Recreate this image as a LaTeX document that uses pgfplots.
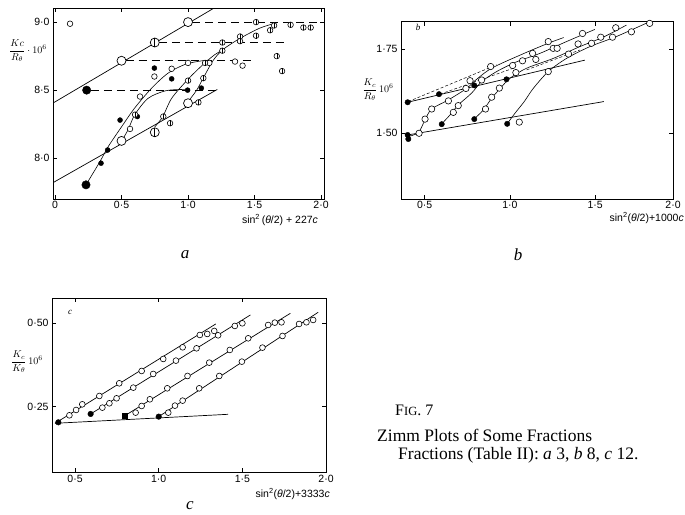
\documentclass[border=0pt]{standalone}
\usepackage{pgfplots}
\pgfplotsset{compat=1.18}
\usepackage{fontspec}
\setmainfont{Liberation Serif}
\setsansfont{Liberation Sans}
\begin{document}
\begin{tikzpicture}
\useasboundingbox (0pt,0pt) rectangle (685pt,514pt);
\pgfplotsset{
 zimm/.style={scale only axis, anchor=south west, axis line style={line width=0.7pt},
   tick align=inside, major tick length=4pt, tick style={line width=0.6pt, black},
   tick label style={font=\sffamily\fontsize{10.5}{12}\selectfont},
   xticklabel style={yshift=1pt},
   /pgf/number format/assume math mode=true,
   cycle list={{black,solid}}},
 ln/.style={black, line width=0.7pt, no marks},
 cv/.style={black, line width=0.6pt, no marks, smooth},
 op/.style={only marks, mark=*, mark size=2.8pt, mark options={line width=0.6pt, fill=white, draw=black}},
 opL/.style={only marks, mark=*, mark size=4.5pt, mark options={line width=0.7pt, fill=white, draw=black}},
 fi/.style={only marks, mark=*, mark size=2.5pt, mark options={fill=black, draw=black}},
 fiL/.style={only marks, mark=*, mark size=4.2pt, mark options={fill=black, draw=black}},
 bar/.style={only marks, mark=|, mark size=2.8pt, mark options={line width=0.5pt, draw=black}},
 barL/.style={only marks, mark=|, mark size=4.5pt, mark options={line width=0.6pt, draw=black}},
}
% ---------------- panel a ----------------
\begin{axis}[zimm, at={(53pt,315pt)}, width=271pt, height=190.5pt,
 xmin=-0.015, xmax=2.022, ymin=7.70, ymax=9.10,
 xtick={0,0.5,1,1.5,2}, xticklabels={0,0·5,1·0,1·5,2·0},
 ytick={8,8.5,9}, yticklabels={8·0,8·5,9·0}]
\addplot[ln] coordinates {(-0.015,8.405) (1.19,9.10)};
\addplot[ln] coordinates {(-0.015,7.82) (1.22,8.505)};
\addplot[ln, dash pattern=on 8pt off 5pt] coordinates {(1.03,9.0) (2.02,9.0)};
\addplot[ln, dash pattern=on 8pt off 5pt] coordinates {(0.78,8.85) (1.74,8.85)};
\addplot[ln, dash pattern=on 8pt off 5pt] coordinates {(0.53,8.72) (1.48,8.72)};
\addplot[ln, dash pattern=on 8pt off 5pt] coordinates {(0.27,8.5) (1.23,8.5)};
\addplot[cv] coordinates {(0.233,7.804) (0.338,7.975) (0.40,8.085) (0.50,8.23) (0.60,8.37) (0.727,8.515) (0.85,8.625) (0.98,8.69) (1.10,8.715) (1.16,8.72)};
\addplot[cv] coordinates {(0.50,8.125) (0.55,8.21) (0.60,8.32) (0.70,8.44) (0.83,8.495) (0.95,8.505) (1.0,8.505)};
\addplot[cv] coordinates {(0.75,8.23) (0.81,8.305) (0.877,8.44) (1.0,8.58) (1.115,8.69) (1.2,8.76) (1.27,8.80)};
\addplot[cv] coordinates {(1.0,8.415) (1.065,8.50) (1.115,8.59) (1.19,8.72) (1.265,8.80) (1.39,8.88) (1.54,8.956) (1.65,8.99)};
\addplot[opL] coordinates {(0.5,8.716) (1.0,9.0) (0.5,8.127) (1.0,8.404) (0.75,8.85) (0.75,8.19)};
\addplot[barL] coordinates {(0.75,8.85) (0.75,8.19)};
\addplot[fiL] coordinates {(0.233,7.804) (0.238,8.50)};
\addplot[fi] coordinates {(0.346,7.963) (0.396,8.06) (0.489,8.28) (0.619,8.306) (0.747,8.662) (0.877,8.583) (0.997,8.50) (1.10,8.515)};
\addplot[op] coordinates {(0.113,8.988) (0.747,8.60) (0.639,8.453) (0.564,8.215) (0.877,8.657) (1.0,8.70) (1.353,8.71) (1.41,8.68) (1.16,8.70)};
\addplot[op] coordinates {(0.602,8.32) (0.814,8.306) (0.865,8.257) (1.0,8.57) (1.078,8.41) (1.115,8.588) (1.128,8.70) (1.258,8.85) (1.258,8.79) (1.391,8.894) (1.391,8.86) (1.511,9.0) (1.511,8.90) (1.617,8.94) (1.647,8.975) (1.667,8.75) (1.707,8.64) (1.771,8.98) (1.867,8.96) (1.922,8.96)};
\addplot[bar] coordinates {(0.602,8.32) (0.814,8.306) (0.865,8.257) (1.0,8.57) (1.078,8.41) (1.115,8.588) (1.128,8.70) (1.258,8.85) (1.258,8.79) (1.391,8.894) (1.391,8.86) (1.511,9.0) (1.511,8.90) (1.617,8.94) (1.647,8.975) (1.667,8.75) (1.707,8.64) (1.771,8.98) (1.867,8.96) (1.922,8.96)};
\end{axis}
% ---------------- panel b ----------------
\begin{axis}[zimm, at={(401pt,315pt)}, width=272pt, height=177.3pt,
 xmin=0.361, xmax=1.957, ymin=1.305, ymax=1.831,
 xtick={0.5,1,1.5,1.957}, xticklabels={0·5,1·0,1·5,2·0},
 ytick={1.5,1.75}, yticklabels={1·50,1·75}]
\addplot[ln] coordinates {(0.40,1.592) (1.44,1.717)};
\addplot[ln] coordinates {(0.40,1.495) (1.551,1.594)};
\addplot[ln, dash pattern=on 3pt off 2pt, line width=0.5pt] coordinates {(0.404,1.594) (0.922,1.703)};
\addplot[ln, dash pattern=on 3pt off 2pt, line width=0.5pt] coordinates {(0.59,1.616) (1.02,1.693)};
\addplot[ln, dash pattern=on 3pt off 2pt, line width=0.5pt] coordinates {(1.098,1.688) (1.41,1.747)};
\addplot[cv] coordinates {(0.400,1.490) (0.463,1.502) (0.502,1.540) (0.541,1.572) (0.639,1.599) (0.746,1.633) (0.795,1.656) (0.893,1.693) (1.074,1.735) (1.225,1.767) (1.316,1.784)};
\addplot[cv] coordinates {(0.600,1.528) (0.648,1.554) (0.697,1.584) (0.775,1.619) (0.834,1.653) (0.922,1.683) (1.039,1.712) (1.176,1.737) (1.332,1.772) (1.498,1.808)};
\addplot[cv] coordinates {(0.789,1.542) (0.844,1.569) (0.893,1.604) (0.938,1.630) (1.0,1.663) (1.098,1.693) (1.254,1.722) (1.41,1.757) (1.547,1.785) (1.684,1.821)};
\addplot[cv] coordinates {(0.984,1.528) (1.029,1.559) (1.084,1.594) (1.137,1.633) (1.225,1.683) (1.332,1.722) (1.469,1.757) (1.625,1.787) (1.82,1.831)};
\addplot[op, mark size=3.2pt] coordinates {(0.467,1.500) (0.502,1.542) (0.541,1.572) (0.639,1.596) (0.668,1.562) (0.697,1.582) (0.742,1.633) (0.766,1.656) (0.834,1.658) (0.857,1.572) (0.893,1.607) (0.938,1.634) (0.887,1.698) (1.016,1.701) (1.074,1.715) (1.035,1.680) (1.133,1.737) (1.152,1.719) (1.225,1.683) (1.225,1.772) (1.254,1.752) (1.277,1.752) (1.344,1.735) (1.40,1.765) (1.426,1.796) (1.479,1.767) (1.533,1.785) (1.602,1.785) (1.621,1.813) (1.713,1.801) (1.820,1.826) (1.055,1.533)};
\addplot[fi, mark size=2.7pt] coordinates {(0.40,1.592) (0.584,1.616) (0.791,1.642) (0.98,1.66) (0.40,1.495) (0.404,1.483) (0.60,1.527) (0.791,1.542) (0.984,1.528)};
\end{axis}
% ---------------- panel c ----------------
\begin{axis}[zimm, at={(52pt,41.7pt)}, width=274pt, height=174pt,
 xmin=0.362, xmax=2.0, ymin=0.053, ymax=0.575,
 xtick={0.5,1,1.5,2}, xticklabels={0·5,1·0,1·5,2·0},
 ytick={0.25,0.5}, yticklabels={0·25,0·50}]
\addplot[ln] coordinates {(0.38,0.200) (1.415,0.227)};
\addplot[ln] coordinates {(0.38,0.200) (1.341,0.498)};
\addplot[ln] coordinates {(0.593,0.228) (1.548,0.525)};
\addplot[ln] coordinates {(0.798,0.223) (1.787,0.530)};
\addplot[ln] coordinates {(1.0,0.220) (1.953,0.533)};
\addplot[op, mark size=2.9pt] coordinates {(0.466,0.224) (0.506,0.240) (0.543,0.257) (0.645,0.282) (0.764,0.320) (0.898,0.357) (1.027,0.393) (1.143,0.428) (1.246,0.465) (1.290,0.468) (1.332,0.477)};
\addplot[op, mark size=2.9pt] coordinates {(0.663,0.247) (0.705,0.260) (0.748,0.275) (0.848,0.307) (0.967,0.348) (1.103,0.388) (1.226,0.425) (1.355,0.464) (1.455,0.492) (1.50,0.50)};
\addplot[op, mark size=2.9pt] coordinates {(0.862,0.232) (0.898,0.252) (0.947,0.272) (1.051,0.305) (1.172,0.342) (1.302,0.382) (1.425,0.420) (1.535,0.455) (1.654,0.495) (1.694,0.502) (1.734,0.503)};
\addplot[op, mark size=2.9pt] coordinates {(1.057,0.232) (1.097,0.253) (1.143,0.268) (1.242,0.305) (1.362,0.342) (1.497,0.385) (1.620,0.427) (1.740,0.462) (1.839,0.498) (1.883,0.503) (1.923,0.510)};
\addplot[fi, mark size=2.8pt] coordinates {(0.40,0.203) (0.593,0.228) (1.0,0.220)};
\addplot[only marks, mark=square*, mark size=2.5pt, mark options={fill=black}] coordinates {(0.798,0.223)};
\end{axis}
% ---------------- texts ----------------
\node at (28pt,463pt) {\fontsize{10}{12}\selectfont$\displaystyle\frac{Kc}{R_\theta}\cdot 10^{6}$};
\node at (280pt,294pt) {\sffamily\fontsize{10.5}{12}\selectfont sin\textsuperscript{2}\,(\textit{θ}/2) + 227\textit{c}};
\node at (185pt,259pt) {\fontsize{17}{20}\selectfont\textit{a}};
\node at (378pt,424pt) {\fontsize{10}{12}\selectfont$\displaystyle\frac{K_c}{R_\theta}\,10^{6}$};
\node[anchor=east, inner sep=1pt] at (685pt,296pt) {\sffamily\fontsize{10.5}{12}\selectfont sin\textsuperscript{2}(\textit{θ}/2)+1000\textit{c}};
\node at (418pt,487pt) {\fontsize{9}{10}\selectfont\textit{b}};
\node at (518pt,259pt) {\fontsize{17}{20}\selectfont\textit{b}};
\node at (27pt,152pt) {\fontsize{10}{12}\selectfont$\displaystyle\frac{K_c}{K_\theta}\,10^{6}$};
\node at (70pt,202pt) {\fontsize{9}{10}\selectfont\textit{c}};
\node[anchor=east, inner sep=1pt] at (331pt,20pt) {\sffamily\fontsize{10.5}{12}\selectfont sin\textsuperscript{2}(\textit{θ}/2)+3333\textit{c}};
\node at (190pt,8pt) {\fontsize{17}{20}\selectfont\textit{c}};
\node[anchor=west, inner sep=0pt] at (395pt,104pt) {\fontsize{16}{19}\selectfont F{\fontsize{12.5}{15}\selectfont IG}. 7};
\node[anchor=west, inner sep=0pt] at (377pt,79pt) {\fontsize{17.5}{20}\selectfont Zimm Plots of Some Fractions};
\node[anchor=west, inner sep=0pt] at (398pt,59pt) {\fontsize{17.5}{20}\selectfont Fractions (Table II): \textit{a} 3, \textit{b} 8, \textit{c} 12.};
\end{tikzpicture}
\end{document}
